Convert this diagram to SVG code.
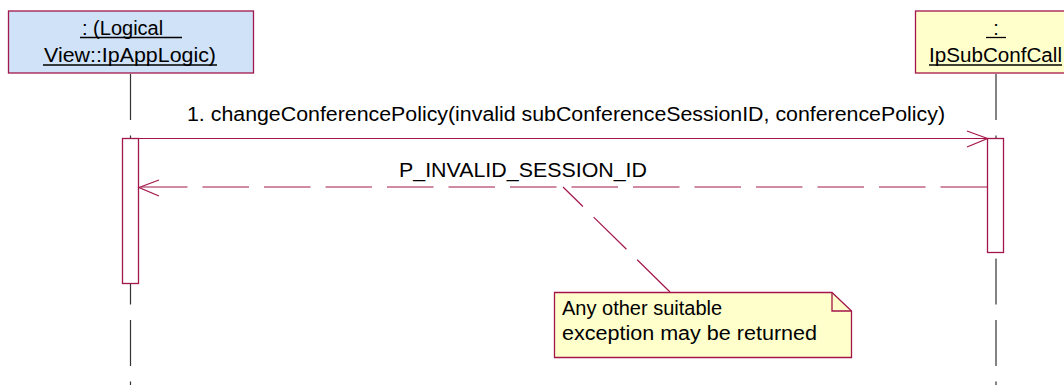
<svg xmlns="http://www.w3.org/2000/svg" width="1064" height="385" viewBox="0 0 1064 385">
<style>
text{font-family:"Liberation Sans",Arial,sans-serif;font-size:20px;fill:#000}
.box{stroke:#a3164b;stroke-width:1.3}
.life{stroke:#333;stroke-width:1.2;stroke-dasharray:46 15.5;fill:none}
.act{fill:#fff;stroke:#a3164b;stroke-width:1.3}
.msg{stroke:#a3164b;stroke-width:1.2;fill:none}
.ul{stroke:#000;stroke-width:1.3}
</style>
<rect width="1064" height="385" fill="#fff"/>
<g id="lifelines">
<line class="life" x1="130.5" y1="74" x2="130.5" y2="385"/>
<line class="life" x1="996" y1="74" x2="996" y2="385"/>
</g>
<g id="node-ipapplogic">
<rect class="box" x="8.5" y="11" width="245" height="62" fill="#cfe2f8"/>
<text x="82" y="35">: (Logical</text>
<line class="ul" x1="80" y1="37.5" x2="182" y2="37.5"/>
<text x="130" y="62" text-anchor="middle" textLength="172" lengthAdjust="spacingAndGlyphs">View::IpAppLogic)</text>
<line class="ul" x1="43" y1="65" x2="217" y2="65"/>
</g>
<g id="node-ipsubconfcall">
<rect class="box" x="915.5" y="11" width="162" height="62" fill="#ffffcc"/>
<text x="996" y="35" text-anchor="middle">:</text>
<line class="ul" x1="986" y1="37.5" x2="1006" y2="37.5"/>
<text x="995.5" y="62" text-anchor="middle" textLength="133" lengthAdjust="spacingAndGlyphs">IpSubConfCall</text>
<line class="ul" x1="929" y1="65" x2="1062" y2="65"/>
</g>
<g id="activations">
<rect class="act" x="122.5" y="138.5" width="16" height="145"/>
<rect class="act" x="987.5" y="138.5" width="16" height="114"/>
</g>
<g id="connectors">
<line class="msg" x1="138.5" y1="138.5" x2="987.5" y2="138.5"/>
<polyline class="msg" points="967,131 987.5,138.5 967,147"/>
<text x="187" y="121" textLength="758" lengthAdjust="spacingAndGlyphs">1. changeConferencePolicy(invalid subConferenceSessionID, conferencePolicy)</text>
<line class="msg" x1="987" y1="187" x2="139" y2="187" stroke-dasharray="46.5 15"/>
<polyline class="msg" points="159,180 139,187.5 159,196"/>
<text x="399" y="177" textLength="248" lengthAdjust="spacingAndGlyphs">P_INVALID_SESSION_ID</text>
<line class="msg" x1="670" y1="292" x2="563" y2="187" stroke-dasharray="46 15"/>
</g>
<g id="note">
<polygon points="554.5,292.5 832,292.5 851.5,311 851.5,357.5 554.5,357.5" fill="#ffffcc" stroke="#a3164b" stroke-width="1.3"/>
<polyline points="832,292.5 832,311 851.5,311" fill="none" stroke="#a3164b" stroke-width="1.3"/>
<text x="562" y="315">Any other suitable</text>
<text x="562" y="340" textLength="255" lengthAdjust="spacingAndGlyphs">exception may be returned</text>
</g>
</svg>
